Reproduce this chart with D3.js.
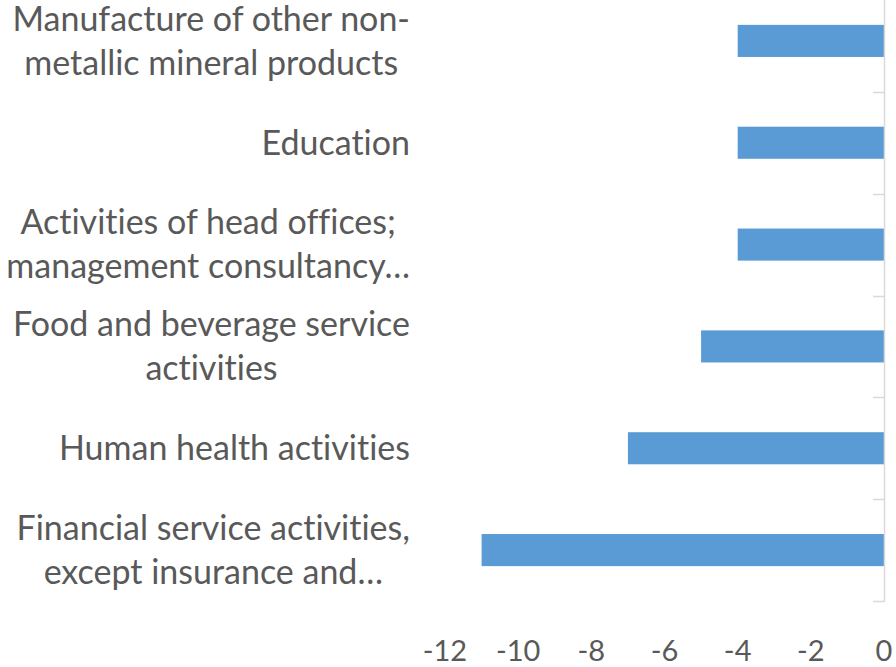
<!DOCTYPE html>
<html>
<head>
<meta charset="utf-8">
<script src="https://cdn.jsdelivr.net/npm/d3@7"></script>
<style>
  html, body { margin: 0; padding: 0; background: #fff; }
  svg { display: block; }
  text { font-variant-ligatures: none; font-feature-settings: "liga" 0; }
</style>
</head>
<body>
<svg id="chart" width="896" height="667"></svg>
<script>
// ---- data ----
const categories = [
  "Manufacture of other non-|metallic mineral products",
  "Education",
  "Activities of head offices;|management consultancy…",
  "Food and beverage service|activities",
  "Human health activities",
  "Financial service activities,|except insurance and…"
];
const values = [-4, -4, -4, -5, -7, -11];
const xTicks = [-12, -10, -8, -6, -4, -2, 0];

// ---- layout ----
const svg = d3.select("#chart");
const fontFamily = "Lato, 'Open Sans', sans-serif";
const textColor = "#595959";
const labelRight = 410;
const fontSize = 34;

const x = d3.scaleLinear().domain([-12, 0]).range([445, 884]);
const y = d3.scaleBand().domain(categories).range([-10, 601]).paddingInner(0.685).paddingOuter(0.3425);
const yb = d3.scaleBand().domain(categories).range([-10, 601]);

// bars
svg.append("g").selectAll("rect")
  .data(categories)
  .join("rect")
  .attr("x", (d, i) => x(values[i]))
  .attr("y", d => y(d))
  .attr("width", (d, i) => x(0) - x(values[i]))
  .attr("height", y.bandwidth())
  .attr("fill", "#5b9bd5");

// vertical axis at x=0
const axisCol = "#d9d9d9";
const ag = svg.append("g");
ag.append("line")
  .attr("x1", x(0) + 0.5).attr("x2", x(0) + 0.5)
  .attr("y1", -10).attr("y2", 601.5)
  .attr("stroke", axisCol).attr("stroke-width", 1.5);
const boundaries = categories.map(c => yb(c) + yb.bandwidth());
ag.selectAll("line.tick")
  .data(boundaries)
  .join("line")
  .attr("class", "tick")
  .attr("x1", x(0) - 11).attr("x2", x(0) + 0.5)
  .attr("y1", d => Math.round(d) + 0.5).attr("y2", d => Math.round(d) + 0.5)
  .attr("stroke", axisCol).attr("stroke-width", 1.5);

// category labels
const lg = svg.append("g")
  .attr("font-family", fontFamily)
  .attr("font-size", fontSize)
  .attr("fill", textColor);
const lineH = 44;
categories.forEach(c => {
  const lines = c.split("|");
  const cy = yb(c) + yb.bandwidth() / 2;
  const g = lg.append("g");
  const texts = lines.map((ln, k) => g.append("text")
    .attr("y", cy + (k - (lines.length - 1) / 2) * lineH)
    .attr("dy", "0.35em")
    .attr("text-anchor", "middle")
    .text(ln));
  const maxW = d3.max(texts, t => t.node().getComputedTextLength());
  texts.forEach(t => t.attr("x", labelRight - maxW / 2));
});

// x tick labels
svg.append("g")
  .attr("font-family", fontFamily)
  .attr("font-size", 29)
  .attr("fill", textColor)
  .selectAll("text")
  .data(xTicks)
  .join("text")
  .attr("x", d => x(d))
  .attr("y", 661)
  .attr("text-anchor", "middle")
  .text(d => d);
</script>
</body>
</html>
